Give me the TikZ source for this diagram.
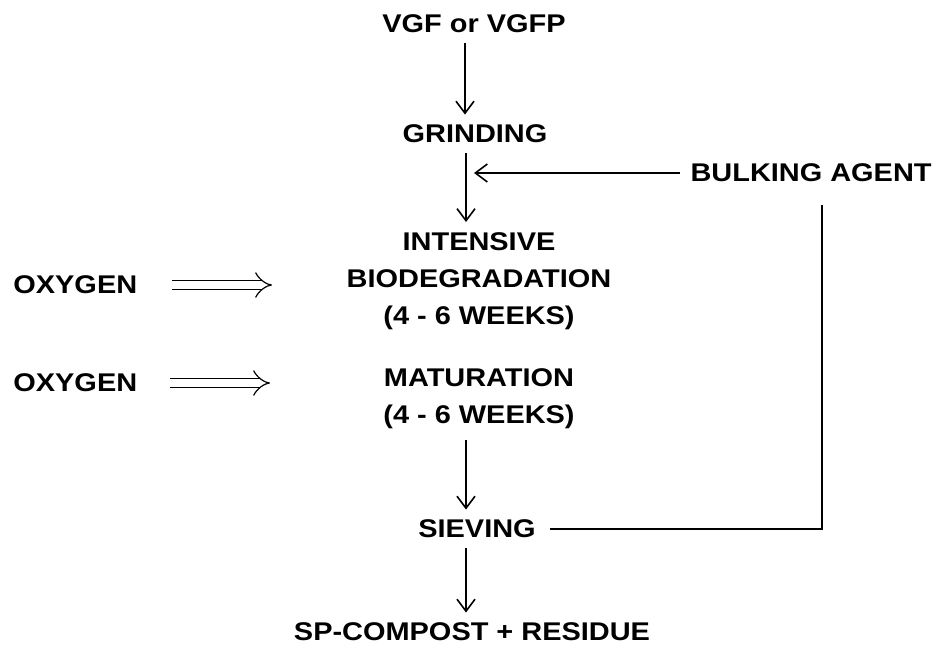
\documentclass[tikz,border=0pt]{standalone}
\usepackage{fontspec}
\setmainfont{Liberation Sans}[FakeStretch=1.13]
\usetikzlibrary{arrows.meta}
\begin{document}
\begin{tikzpicture}[x=0.5pt,y=-0.5pt,
  lbl/.style={font=\fontsize{12.8}{18.5}\selectfont\bfseries, align=center, inner sep=3pt},
  flow/.style={line width=0.8pt, -{Straight Barb[length=6pt,width=9pt]}, shorten >=2pt, shorten <=2pt},
  feed/.style={double, double distance=4pt, line width=0.6pt, -{Implies[length=6pt,width=10pt]}}]
\useasboundingbox (0,0) rectangle (945,648);
\node[lbl] (vgf) at (474,24) {VGF or VGFP};
\node[lbl] (grind) at (475,134) {GRINDING};
\node[lbl, anchor=east] (bulk) at (938,173) {BULKING AGENT};
\node[lbl] (bio) at (479,281) {INTENSIVE\\BIODEGRADATION\\(4 - 6 WEEKS)};
\node[lbl, anchor=west] (oxya) at (7,285) {OXYGEN};
\node[lbl, anchor=west] (oxyb) at (7,383) {OXYGEN};
\node[lbl] (mat) at (479,399) {MATURATION\\(4 - 6 WEEKS)};
\node[lbl] (sieve) at (477,529) {SIEVING};
\node[lbl] (comp) at (472,632) {SP-COMPOST + RESIDUE};
\coordinate (oxyatip) at (272,285);
\coordinate (oxybtip) at (270,383);

\draw[flow] (vgf.south -| 465,0) -- (grind.north -| 465,0);
\draw[flow] (grind.south -| 466,0) -- (bio.north -| 466,0);
\draw[flow, shorten >=4pt] (bulk.west) -- (bulk.west -| 466,0);
\draw[feed] (172,285) -- (oxyatip);
\draw[feed] (170,383) -- (oxybtip);
\draw[flow] (mat.south -| 466,0) -- (sieve.north -| 466,0);
\draw[flow] (sieve.south -| 466,0) -- (comp.north -| 466,0);
\draw[line width=0.8pt] (822,205) |- ([xshift=4pt]sieve.east);
\end{tikzpicture}
\end{document}
